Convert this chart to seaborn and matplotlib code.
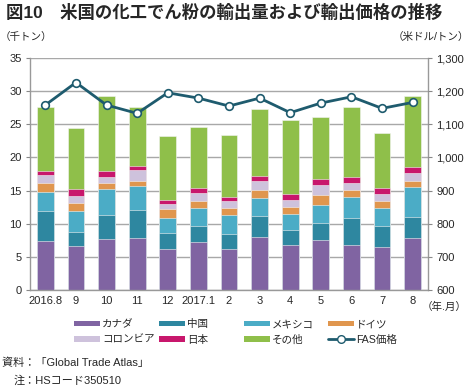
import matplotlib
matplotlib.use("Agg")
import matplotlib.pyplot as plt
import seaborn as sns
import pandas as pd
import numpy as np
from matplotlib.patches import Patch
from matplotlib.lines import Line2D

sns.set_style("white")
plt.rcParams['font.family'] = ['Liberation Sans', 'Noto Sans CJK JP', 'DejaVu Sans']

# Data (thousand tons, USD/ton)
months = ["2016.8", "9", "10", "11", "12", "2017.1", "2", "3", "4", "5", "6", "7", "8"]
canada   = [7.45, 6.65, 7.65, 7.90, 6.14, 7.25, 6.24, 8.06, 6.80, 7.55, 6.80, 6.44, 7.90]
china    = [4.53, 2.11, 3.73, 4.18, 2.42, 2.47, 2.26, 3.12, 2.30, 2.57, 4.08, 3.28, 3.18]
mexico   = [2.87, 3.12, 3.82, 3.62, 2.27, 2.62, 2.78, 2.77, 2.43, 2.77, 3.17, 2.72, 4.42]
germany  = [1.35, 1.26, 0.96, 0.76, 1.41, 1.10, 1.11, 1.15, 1.06, 1.46, 1.11, 1.06, 1.00]
colombia = [1.17, 1.06, 0.94, 1.61, 0.66, 1.26, 1.11, 1.36, 1.01, 1.55, 0.94, 1.00, 1.17]
japan    = [0.63, 1.06, 0.90, 0.71, 0.65, 0.76, 0.60, 0.76, 0.90, 0.87, 0.97, 0.96, 0.91]
others   = [9.60, 9.24, 11.20, 8.82, 9.61, 9.14, 9.26, 10.12, 11.08, 9.31, 10.53, 8.24, 10.67]
fas_price = [1158, 1226, 1158, 1133, 1195, 1179, 1155, 1179, 1135, 1164, 1183, 1148, 1166]

series = ["カナダ", "中国", "メキシコ", "ドイツ", "コロンビア", "日本", "その他"]
values = [canada, china, mexico, germany, colombia, japan, others]
colors = ["#8064A2", "#2E87A0", "#4BACC6", "#E0964E", "#CEC2DC", "#C8176C", "#8FBF4A"]
line_color = "#1E5B6E"

df = pd.DataFrame({name: v for name, v in zip(series, values)})
cum = df[series].cumsum(axis=1)

fig = plt.figure(figsize=(4.69, 3.89), dpi=100)
ax = fig.add_axes([30 / 469, 1 - 290 / 389, 398 / 469, 232 / 389])

# stacked bars: draw cumulative totals from top layer down
for name, c in reversed(list(zip(series, colors))):
    sns.barplot(x=months, y=cum[name].values, order=months, color=c, saturation=1,
                width=0.55, edgecolor="#F4F4F4", linewidth=0.4, ax=ax)

ax.set_ylim(0, 35)
ax.set_xlim(-0.5, 12.5)
ax.set_yticks(range(0, 36, 5))
ax.set_axisbelow(True)
ax.yaxis.grid(True, color="#A8A8A8", linewidth=1.0)
ax.xaxis.grid(False)
ax.set_xticks(np.arange(-0.5, 13, 1), minor=True)
ax.tick_params(axis="x", which="major", length=0, labelsize=8, pad=4)
ax.tick_params(axis="x", which="minor", length=3, color="#888888", width=0.8)
ax.tick_params(axis="y", length=3, color="#888888", labelsize=8, pad=3, left=True)
ax.set_xlabel("")
ax.set_ylabel("")
for s in ["left", "right", "bottom"]:
    ax.spines[s].set_color("#999999")
    ax.spines[s].set_linewidth(1.0)
ax.spines["top"].set_visible(False)

ax2 = ax.twinx()
sns.lineplot(x=np.arange(len(months)), y=fas_price, ax=ax2, color=line_color,
             linewidth=2, marker="o", markersize=5.5, markerfacecolor="white",
             markeredgecolor=line_color, markeredgewidth=1.2)
ax2.set_ylim(600, 1300)
ax2.set_xlim(-0.5, 12.5)
ax2.set_yticks(range(600, 1301, 100))
ax2.set_yticklabels([f"{v:,}" for v in range(600, 1301, 100)])
ax2.tick_params(axis="y", length=3, color="#888888", labelsize=8, pad=3, right=True)
for s in ["left", "right", "bottom", "top"]:
    ax2.spines[s].set_visible(False)

# texts
fig.text(6 / 469, 1 - 12 / 389, "図10　米国の化工でん粉の輸出量および輸出価格の推移",
         fontsize=12.5, fontweight="bold", va="center", ha="left")
fig.text(0 / 469, 1 - 37 / 389, "（千トン）", fontsize=7.6, va="center", ha="left")
fig.text(469 / 469, 1 - 37 / 389, "（米ドル/トン）", fontsize=7.6, va="center", ha="right")
fig.text(467 / 469, 1 - 307 / 389, "（年.月）", fontsize=7.6, va="center", ha="right")
fig.text(2 / 469, 1 - 363 / 389, "資料：「Global Trade Atlas」", fontsize=8, va="center", ha="left")
fig.text(14 / 469, 1 - 381 / 389, "注：HSコード350510", fontsize=8, va="center", ha="left")

# legend: four columns at fixed positions, two rows each
h = {n: Patch(facecolor=c, edgecolor="none") for n, c in zip(series, colors)}
h["FAS価格"] = Line2D([], [], color=line_color, linewidth=2, marker="o", markersize=5.5,
                    markerfacecolor="white", markeredgecolor=line_color)
columns = [["カナダ", "コロンビア"], ["中国", "日本"], ["メキシコ", "その他"], ["ドイツ", "FAS価格"]]
col_x = [74, 159, 244, 328]
for names, x in zip(columns, col_x):
    fig.legend([h[n] for n in names], names, loc="center left",
               bbox_to_anchor=(x / 469, 1 - 332 / 389), frameon=False, fontsize=7.6,
               handlelength=2.45, handleheight=0.45, labelspacing=0.5,
               handletextpad=0.2, borderpad=0, borderaxespad=0)

fig.savefig("out.png", dpi=100)
